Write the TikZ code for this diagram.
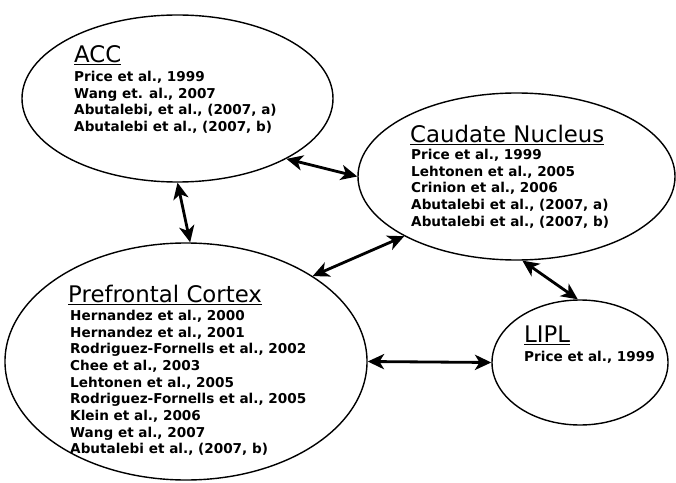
\documentclass[tikz,border=0pt]{standalone}
\usepackage{fontspec}
\setmainfont{DejaVu Sans}
\usetikzlibrary{arrows.meta}
\usetikzlibrary{shapes.geometric}

\tikzset{
  area/.style={draw, ellipse, line width=1.2pt, inner sep=0pt},
  title/.style={anchor=north west, inner sep=0pt, font=\fontsize{19.5}{22}\selectfont},
  refs/.style={anchor=north west, inner sep=0pt, align=left, font=\fontsize{11.6}{14.2}\selectfont\bfseries},
  link/.style={{Stealth[length=14pt,width=13pt,inset=4pt]}-{Stealth[length=14pt,width=13pt,inset=4pt]}, line width=2.4pt}
}

\begin{document}
\begin{tikzpicture} [x=0.03cm, y=-0.03cm]
\useasboundingbox (0,0) rectangle (676,483);

\node[area, minimum width=9.33cm, minimum height=5.01cm] (acc) at (177.5,98.5) {};
\node[area, minimum width=9.51cm, minimum height=5.01cm] (caud) at (516.5,176.5) {};
\node[area, minimum width=10.86cm, minimum height=7.11cm] (pfc) at (186,361.5) {};
\node[area, minimum width=5.28cm, minimum height=3.75cm] (lipl) at (580,362.5) {};

\node[title] (acct) at (74,45) {\underline{ACC}};
\node[refs] (accr) at (74,71) {Price et al., 1999\\ Wang et. al., 2007\\ Abutalebi, et al., (2007, a)\\ Abutalebi et al., (2007, b)};

\node[title] (caudt) at (410,125) {\underline{Caudate Nucleus}};
\node[refs] (caudr) at (411,149) {Price et al., 1999\\ Lehtonen et al., 2005\\ Crinion et al., 2006\\ Abutalebi et al., (2007, a)\\ Abutalebi et al., (2007, b)};

\node[title] (pfct) at (68,285) {\underline{Prefrontal Cortex}};
\node[refs] (pfcr) at (70,310) {Hernandez et al., 2000\\ Hernandez et al., 2001\\ Rodriguez-Fornells et al., 2002\\ Chee et al., 2003\\ Lehtonen et al., 2005\\ Rodriguez-Fornells et al., 2005\\ Klein et al., 2006\\ Wang et al., 2007\\ Abutalebi et al., (2007, b)};

\node[title] (liplt) at (524,326) {\underline{LIPL}};
\node[refs] (liplr) at (524,351) {Price et al., 1999};

\draw[link] (acc.-29) -- (caud.180);
\draw[link] (acc.-90) -- (pfc.88);
\draw[link] (pfc.34) -- (caud.208);
\draw[link] (caud.-86) -- (lipl.92);
\draw[link] (pfc.0) -- (lipl.180);

\end{tikzpicture}
\end{document}
